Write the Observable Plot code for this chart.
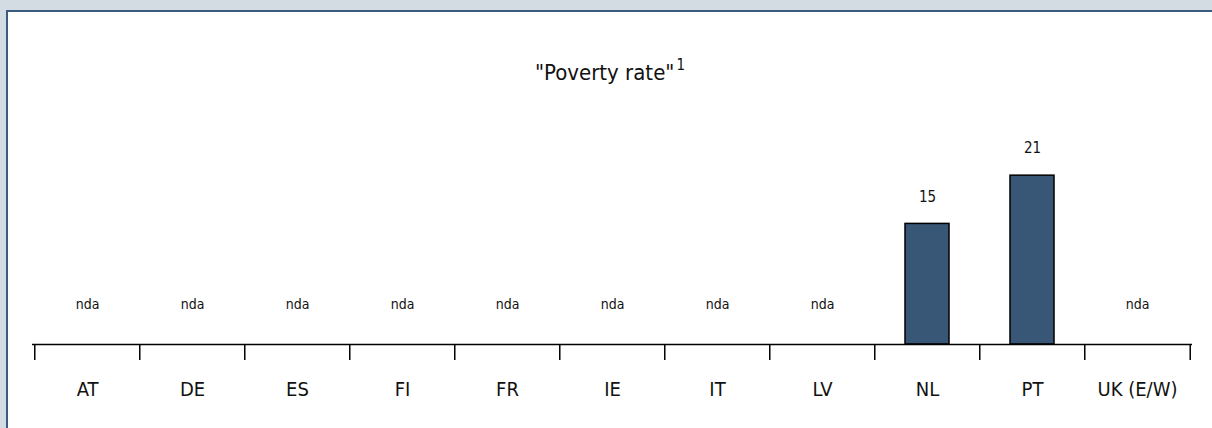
<!DOCTYPE html>
<html>
<head>
<meta charset="utf-8">
<script src="https://cdn.jsdelivr.net/npm/d3@7"></script>
<script src="https://cdn.jsdelivr.net/npm/@observablehq/plot@0.6"></script>
<style>
  html, body { margin: 0; padding: 0; background: #d3dbe3; width: 1212px; height: 428px; overflow: hidden; }
  #panel { position: absolute; left: 6px; top: 10px; width: 1206px; height: 418px; background: #fff;
           border-left: 2px solid #3d5a7f; border-top: 2px solid #3d5a7f; box-sizing: border-box; }
  #title { height: 100px; box-sizing: border-box; padding-top: 48px; line-height: 26px; text-align: center;
           font-family: "Liberation Sans Narrow", "Arial Narrow", "DejaVu Sans Condensed", sans-serif;
           font-size: 22px; color: #111; }
  #title sup { font-size: 15px; vertical-align: 10px; line-height: 0; margin-left: 2px; }
  svg { display: block; }
</style>
</head>
<body>
<div id="panel">
  <div id="title">"Poverty rate"<sup>1</sup></div>
  <div id="chart"></div>
</div>
<script>
const categories = ["AT", "DE", "ES", "FI", "FR", "IE", "IT", "LV", "NL", "PT", "UK (E/W)"];
const values = [null, null, null, null, null, null, null, null, 15, 21, null];
const missingLabel = "nda";

const data = categories.map((c, i) => ({ country: c, value: values[i] }));
const present = data.filter(d => d.value != null);
const missing = data.filter(d => d.value == null);

const W = 1204, H = 316, mL = 24, mR = 20, mT = 31, mB = 84;
const yMax = 25;
const step = (W - mL - mR) / categories.length;
const pxPerUnit = (H - mT - mB) / yMax;
const tickLen = 16 / pxPerUnit;
const font = '"Liberation Sans Narrow", "Arial Narrow", "DejaVu Sans Condensed", sans-serif';

const plot = Plot.plot({
  width: W, height: H,
  marginLeft: mL, marginRight: mR, marginTop: mT, marginBottom: mB,
  style: { fontFamily: font, color: "#111", background: "transparent" },
  x: { domain: categories, paddingInner: 0.583, paddingOuter: 0.2915, label: null },
  y: { domain: [0, yMax], axis: null },
  marks: [
    Plot.barY(present, { x: "country", y: "value", fill: "#385675", stroke: "#000", strokeWidth: 1.5 }),
    Plot.ruleY([0], { stroke: "#000", strokeWidth: 1.5 }),
    Plot.ruleX(categories, { x: d => d, y1: 0, y2: -tickLen, dx: -step / 2, stroke: "#000", strokeWidth: 1.5 }),
    Plot.ruleX(categories.slice(-1), { x: d => d, y1: 0, y2: -tickLen, dx: step / 2, stroke: "#000", strokeWidth: 1.5 }),
    Plot.axisX({ tickSize: 0, tickPadding: 37, fontSize: 20, label: null, fill: "#111" }),
    Plot.text(present, { x: "country", y: "value", text: d => String(d.value), dy: -27, fontSize: 15, fill: "#111" }),
    Plot.text(missing, { x: "country", y: () => 0, text: () => missingLabel, dy: -40, fontSize: 14, fill: "#111" })
  ]
});
document.getElementById("chart").appendChild(plot);
</script>
</body>
</html>
